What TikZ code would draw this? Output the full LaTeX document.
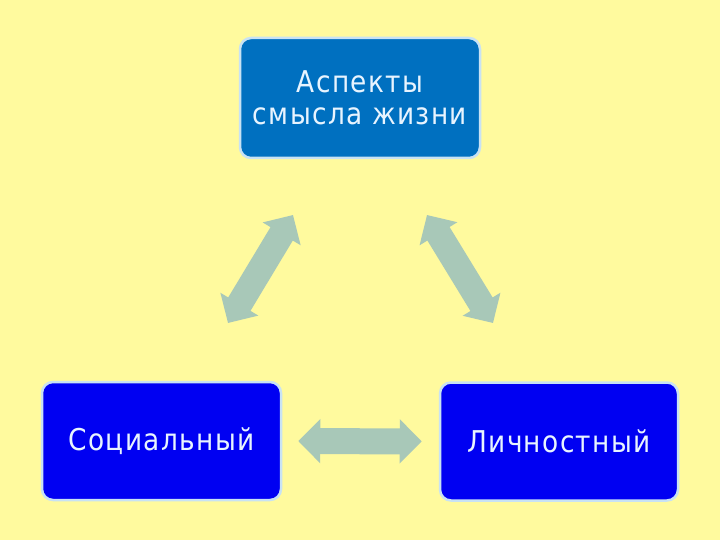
\documentclass[tikz,border=0pt]{standalone}
\usepackage{fontspec}
\newfontfamily\boxfont[FakeStretch=0.88,LetterSpace=4.5]{DejaVu Sans}
\usetikzlibrary{arrows.meta,positioning}
\definecolor{bgyellow}{HTML}{FFFA9E}
\definecolor{topblue}{HTML}{0070C0}
\definecolor{pureblue}{HTML}{0000F2}
\definecolor{rimblue}{HTML}{C8E2F4}
\definecolor{arrowgreen}{HTML}{A8C8B8}
\definecolor{textwhite}{HTML}{E8F4FF}

\begin{document}
\begin{tikzpicture}[
  x=1pt,y=-1pt,
  font=\boxfont\fontsize{30}{32}\selectfont,
  box/.style={draw=rimblue,line width=2.5pt,rounded corners=11pt,align=center,
              text=textwhite,inner sep=0pt},
  biarrow/.style={arrowgreen,line width=26pt,
              {Triangle[length=22pt,width=43pt]}-{Triangle[length=22pt,width=43pt]}}
]
\fill[bgyellow] (0,0) rectangle (720,540);
\useasboundingbox (0,0) rectangle (720,540);

\node[box,fill=topblue,minimum width=240pt,minimum height=120pt] (top) at (360,98)
 {Аспекты\\смысла жизни};
\node[box,fill=pureblue,minimum width=239pt,minimum height=118pt] (soc) at (161.5,441)
 {Социальный};
\node[box,fill=pureblue,minimum width=238pt,minimum height=118pt] (lich) at (559,441.5)
 {Личностный};

% arrow tips between the boxes
\coordinate (sl) at (228,323);
\coordinate (st) at (293,215);
\coordinate (lt) at (427,215);
\coordinate (ll) at (493,323);

\draw[biarrow] (sl) -- (st);
\draw[biarrow] (lt) -- (ll);
\draw[biarrow,shorten <=16pt,shorten >=17pt] (soc.east) -- (lich.west);
\end{tikzpicture}
\end{document}
